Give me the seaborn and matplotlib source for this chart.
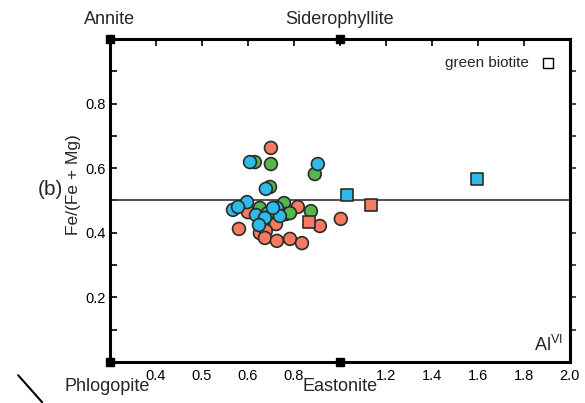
import numpy as np
import pandas as pd
import seaborn as sns
import matplotlib.pyplot as plt
import matplotlib.lines as mlines

# Al(VI) vs Fe/(Fe+Mg)
orange_x = [0.700, 0.600, 0.561, 0.817, 0.913, 1.004, 0.722, 0.652, 0.678, 0.674, 0.726, 0.783, 0.835]
orange_y = [0.663, 0.464, 0.412, 0.480, 0.421, 0.443, 0.427, 0.399, 0.406, 0.384, 0.375, 0.381, 0.368]
green_x = [0.630, 0.700, 0.891, 0.696, 0.652, 0.757, 0.765, 0.783, 0.874]
green_y = [0.619, 0.613, 0.582, 0.542, 0.477, 0.492, 0.458, 0.461, 0.467]
cyan_x = [0.609, 0.904, 0.678, 0.596, 0.535, 0.557, 0.687, 0.635, 0.674, 0.726, 0.739, 0.709, 0.648]
cyan_y = [0.619, 0.613, 0.536, 0.495, 0.471, 0.480, 0.461, 0.455, 0.446, 0.477, 0.452, 0.477, 0.424]

# green biotite (squares)
sq_orange_x = [0.865, 1.135]
sq_orange_y = [0.433, 0.486]
sq_cyan_x = [1.030, 1.596]
sq_cyan_y = [0.517, 0.567]

# tick labels as printed on the original (note the odd left labels)
xtick_labels = ["", "0.4", "0.5", "0.6", "0.8", "", "1.2", "1.4", "1.6", "1.8", "2.0"]
ytick_labels = ["", "0.2", "", "0.4", "", "0.6", "", "0.8", ""]

end_members = {"Phlogopite": (0, 0), "Eastonite": (1, 0), "Annite": (0, 1), "Siderophyllite": (1, 1)}

colors = {"orange": "#F47B60", "green": "#55B64E", "cyan": "#2EBBEA"}
edge = "#2b2b2b"

sns.set_style("white")
plt.rcParams['font.family'] = ['Liberation Sans', 'DejaVu Sans']

def frame(xs, ys, grp):
    return pd.DataFrame({"AlVI": xs, "FeFeMg": ys, "group": grp})

circles = pd.concat([frame(orange_x, orange_y, "orange"),
                     frame(green_x, green_y, "green"),
                     frame(cyan_x, cyan_y, "cyan")], ignore_index=True)
squares = pd.concat([frame(sq_orange_x, sq_orange_y, "orange"),
                     frame(sq_cyan_x, sq_cyan_y, "cyan")], ignore_index=True)

fig = plt.figure(figsize=(5.85, 4.03), dpi=100)
ax = fig.add_axes([0.188, 0.102, 0.786, 0.801])

ax.axhline(0.5, color="#333333", lw=1.2, zorder=1)

sns.scatterplot(data=circles, x="AlVI", y="FeFeMg", hue="group", palette=colors,
                marker="o", s=85, edgecolor=edge, linewidth=1.2, legend=False, ax=ax, zorder=3)
sns.scatterplot(data=squares, x="AlVI", y="FeFeMg", hue="group", palette=colors,
                marker="s", s=70, edgecolor=edge, linewidth=1.2, legend=False, ax=ax, zorder=3)

ax.set_xlim(0, 2.0)
ax.set_ylim(0, 1.0)
ax.set_xticks(np.arange(0, 2.01, 0.2))
ax.set_xticklabels(xtick_labels)
ax.set_yticks(np.arange(0.1, 0.95, 0.1))
ax.set_yticklabels(ytick_labels)
ax.tick_params(axis="x", direction="in", top=True, length=5, width=1.2, labelsize=10.5, pad=5, colors="black")
ax.tick_params(axis="y", direction="in", left=True, length=5, width=1.2, labelsize=10.5, pad=3, colors="black")
ax.set_xlabel("")
ax.set_ylabel("Fe/(Fe + Mg)", fontsize=12.5)
ax.yaxis.set_label_coords(-0.062, 0.55)

right = ax.secondary_yaxis("right")
right.set_yticks([0.1, 0.2, 0.3, 0.4, 0.6, 0.7, 0.8, 0.9])
right.tick_params(direction="out", length=4, width=1.2, labelright=False)
right.spines["right"].set_linewidth(2.2)

for sp in ax.spines.values():
    sp.set_linewidth(2.2)
    sp.set_color("black")

# end-member corners
for name, (cx, cy) in end_members.items():
    ax.plot(cx, cy, "s", color="black", ms=6, clip_on=False, zorder=5)
ax.text(0, 1.035, "Annite", ha="center", va="bottom", fontsize=13, transform=ax.transAxes)
ax.text(0.5, 1.035, "Siderophyllite", ha="center", va="bottom", fontsize=13, transform=ax.transAxes)
ax.text(-0.007, -0.05, "Phlogopite", ha="center", va="top", fontsize=13, transform=ax.transAxes)
ax.text(0.5, -0.05, "Eastonite", ha="center", va="top", fontsize=13, transform=ax.transAxes)
ax.text(0.985, 0.02, "Al$^{\\mathregular{VI}}$", ha="right", va="bottom", fontsize=13, transform=ax.transAxes)

ax.text(1.82, 0.926, "green biotite", ha="right", va="center", fontsize=11)
ax.plot(1.905, 0.926, "s", mfc="white", mec="black", mew=1.0, ms=7)

fig.text(0.087, 0.53, "(b)", ha="center", va="center", fontsize=15)
fig.add_artist(mlines.Line2D([0.031, 0.072], [0.069, 0.002], color="black", lw=1.5))

fig.savefig("out.png", dpi=100)
